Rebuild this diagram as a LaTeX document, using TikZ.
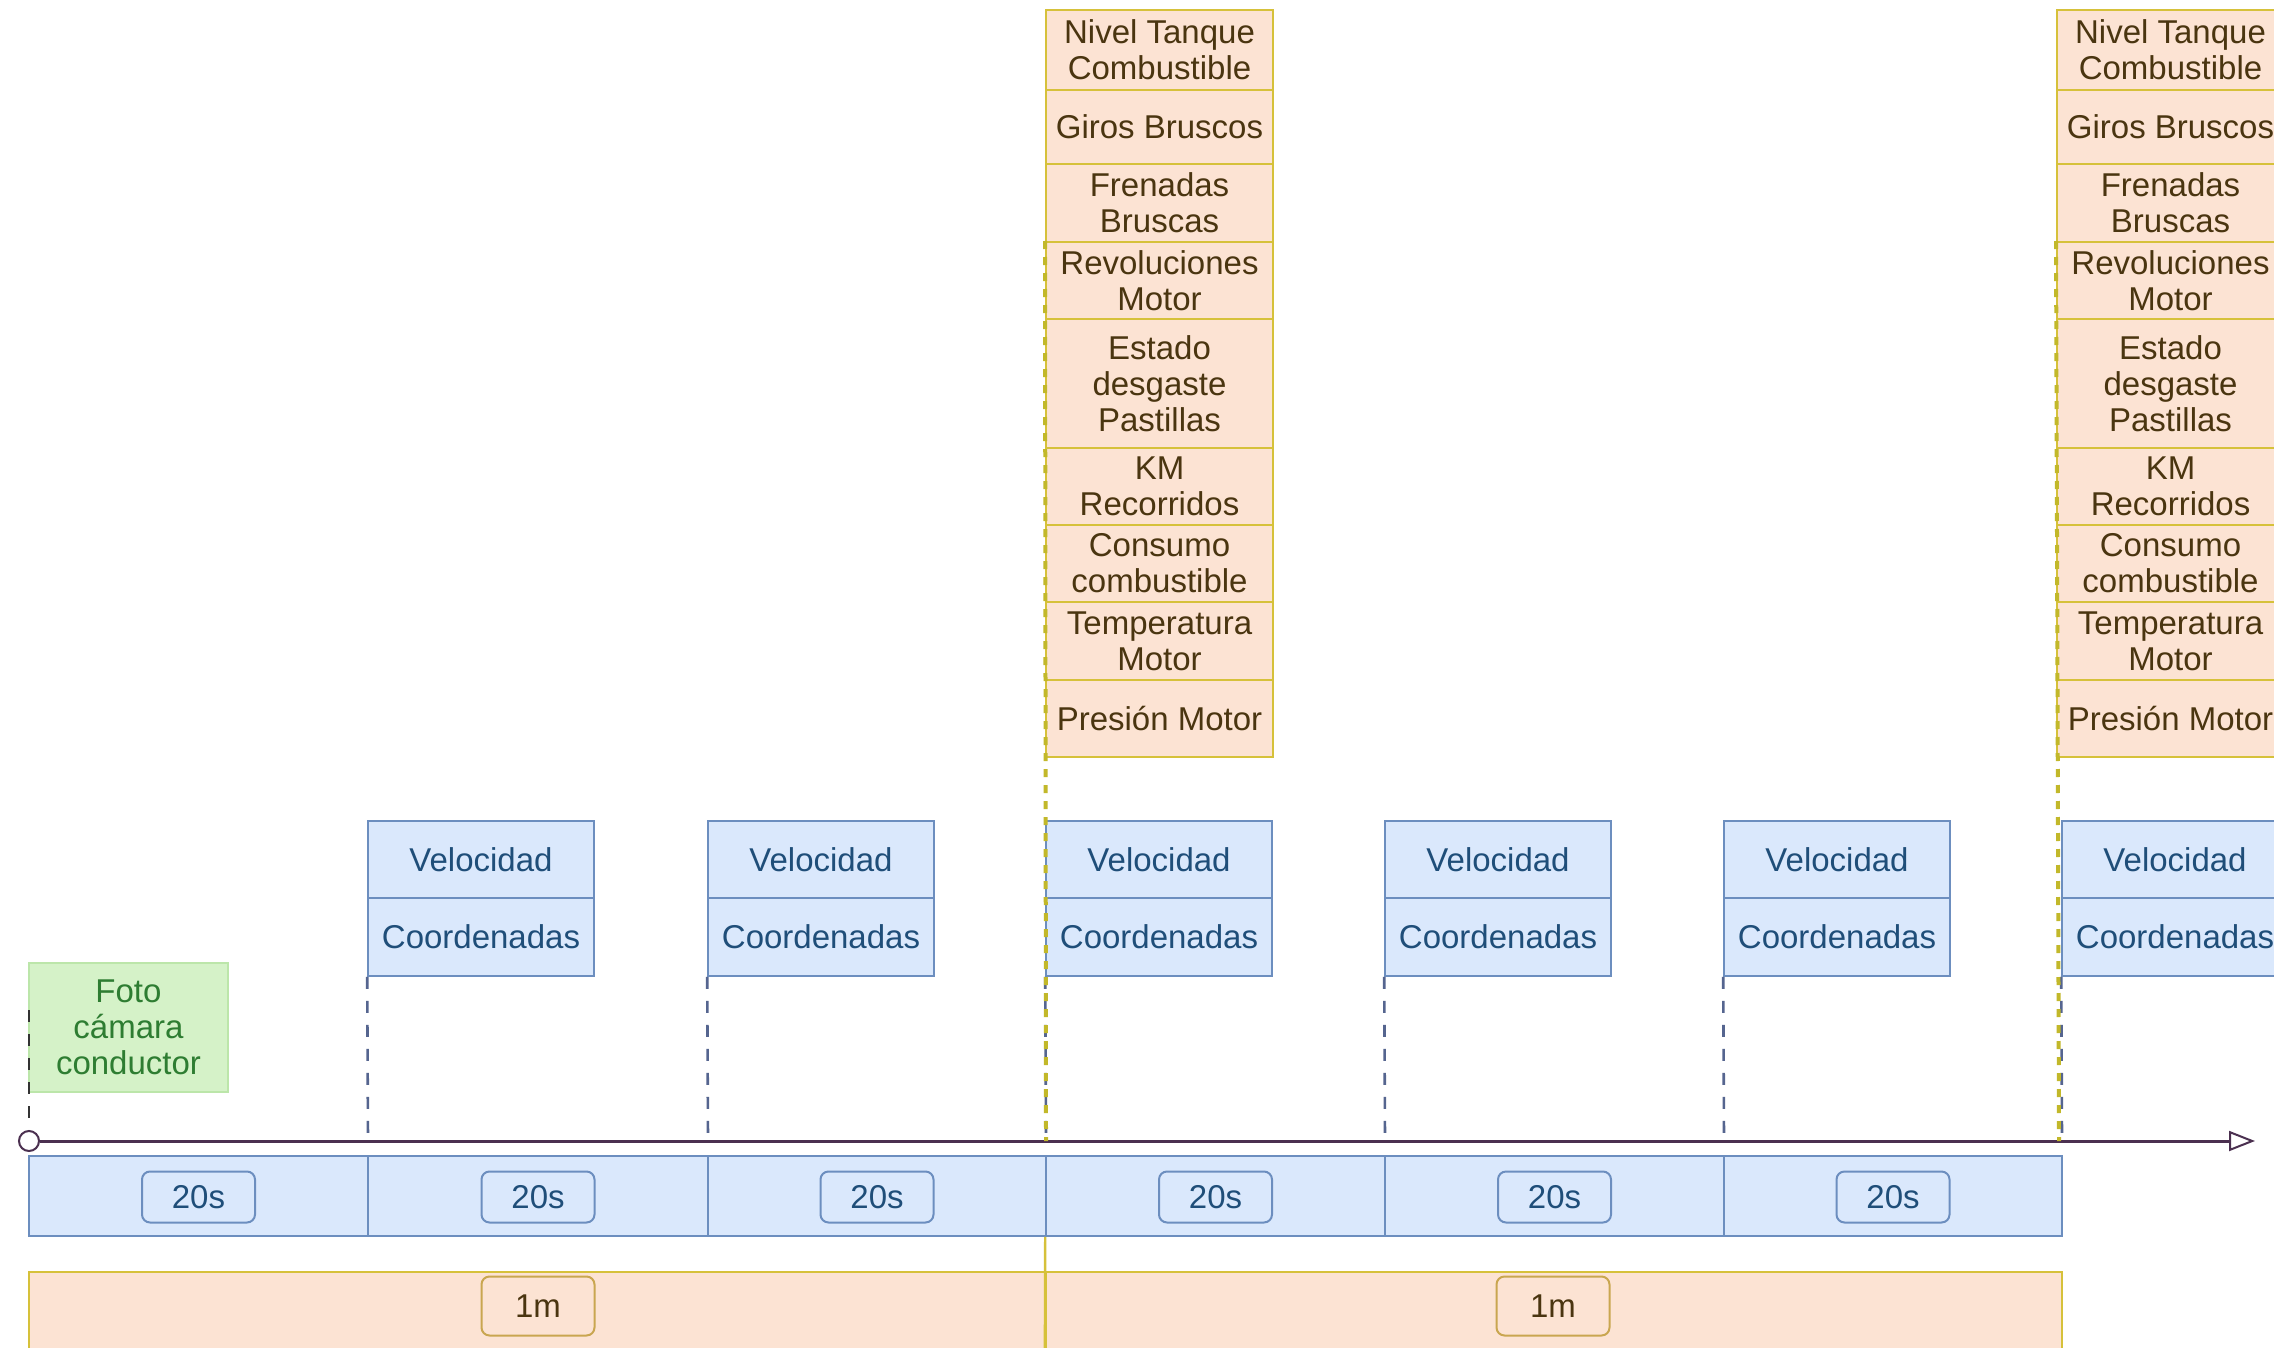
\documentclass[tikz,border=0pt]{standalone}
\usepackage{fontspec}
\setmainfont{Liberation Sans}
\usetikzlibrary{arrows.meta}

\definecolor{blueFill}{HTML}{DAE8FC}
\definecolor{blueLine}{HTML}{6C8EBF}
\definecolor{blueText}{HTML}{1F4E79}
\definecolor{peachFill}{HTML}{FCE3D3}
\definecolor{yellowLine}{HTML}{D6C13A}
\definecolor{oliveDot}{HTML}{C2B82A}
\definecolor{labelLine}{HTML}{C9A650}
\definecolor{brownText}{HTML}{4A3510}
\definecolor{greenFill}{HTML}{D5F2C8}
\definecolor{greenLine}{HTML}{BCE6AA}
\definecolor{greenText}{HTML}{2E7D32}
\definecolor{axisCol}{HTML}{4B3050}
\definecolor{tickCol}{HTML}{55658F}

\tikzset{
  lbl/.style={font=\fontsize{16.5}{18}\selectfont, align=center, inner sep=0pt},
  stackrow/.style={lbl, draw=yellowLine, fill=peachFill, text=brownText,
    line width=1pt, minimum width=113.5pt},
  sensor/.style={lbl, draw=blueLine, fill=blueFill, text=blueText,
    line width=0.8pt, minimum width=113pt},
  photo/.style={lbl, draw=greenLine, fill=greenFill, text=greenText,
    line width=0.6pt, minimum width=99.5pt, minimum height=64.5pt},
  slot/.style={draw=blueLine, fill=blueFill, line width=0.8pt,
    minimum height=40pt, inner sep=0pt},
  minuteband/.style={draw=yellowLine, fill=peachFill, line width=1.2pt,
    minimum height=48pt, inner sep=0pt},
  secs/.style={lbl, draw=blueLine, fill=blueFill, text=blueText, rounded corners=4pt,
    line width=1pt, minimum width=56.5pt, minimum height=25.5pt},
  mins/.style={lbl, draw=labelLine, fill=peachFill, text=brownText, rounded corners=4pt,
    line width=1pt, minimum width=56.5pt, minimum height=29.5pt},
  axis/.style={draw=axisCol, line width=1.5pt,
    -{Triangle[open, length=13pt, width=10pt, line width=1pt]}},
  tickdash/.style={draw=tickCol, line width=1.3pt, dash pattern=on 6pt off 6pt},
  startdash/.style={draw=black!80, line width=1.3pt, dash pattern=on 6pt off 6pt},
  olivedash/.style={draw=oliveDot, line width=2pt, dash pattern=on 4pt off 4pt},
}

\begin{document}
\begin{tikzpicture}[x=0.5pt, y=-0.5pt]
\clip (0,0) rectangle (2274,1348);
\fill[white] (0,0) rectangle (2274,1348);

% 20 s slots along the time axis
\foreach \cx/\w [count=\i] in {198.5/339, 538/340, 877/338, 1215.5/339, 1554.5/339, 1893/338} {
  \node[slot, minimum width={\w*0.5pt}] (b\i) at (\cx,1196) {};
  \node[secs] (s\i) at (\cx,1197) {20s};
}

% 1 min bands
\node[minuteband, minimum width=508.5pt] (o1) at (537.5,1320) {};
\node[minuteband, minimum width=508pt] (o2) at (1554,1320) {};
\node[mins] (m1) at (538,1306) {1m};
\node[mins] (m2) at (1553,1306) {1m};
\draw[yellowLine, line width=1.2pt] (b4.south west) -- (o2.south west);

% time axis
\coordinate (tEnd) at (2255,1141);
\foreach \x [count=\i] in {368,708,1046,1385,1724,2062} {
  \coordinate (k\i) at (\x,1141);
}
\coordinate (kA) at (1046,1141);
\coordinate (kB) at (2059,1141);
\node[circle, draw=axisCol, fill=white, minimum size=10pt, inner sep=0pt, line width=1pt] (t0) at (29,1141) {};
\draw[axis] (t0.east) -- (tEnd);

% driver photo at the start
\node[photo] (foto) at (128.5,1027.5) {Foto\\cámara\\conductor};
\coordinate (fotoTop) at (29,1010);
\draw[startdash] (fotoTop) -- (t0.north);

% speed / position every 20 s
\foreach \L [count=\i] in {368,708,1046,1385,1724,2062} {
  \node[sensor, minimum height=38.5pt] (v\i) at (\L+113,859.5) {Velocidad};
  \node[sensor, minimum height=39pt] (c\i) at (\L+113,937) {Coordenadas};
  \draw[tickdash] (c\i.south west) -- (k\i);
}

% vehicle data every minute
\foreach \cx/\nm in {1159.5/A, 2170.5/B} {
  \foreach \t/\b/\txt [count=\i] in {
      10/90/{Nivel Tanque\\Combustible},
      90/164/{Giros Bruscos},
      164/242/{Frenadas\\Bruscas},
      242/319/{Revoluciones\\Motor},
      319/448/{Estado\\desgaste\\Pastillas},
      448/525/{KM\\Recorridos},
      525/602/{Consumo\\combustible},
      602/680/{Temperatura\\Motor},
      680/757/{Presión Motor}} {
    \node[stackrow, minimum height={(\b-\t)*0.5pt}] (s\nm\i) at (\cx,{(\t+\b)/2}) {\txt};
  }
}
\draw[olivedash] (sA4.north west) -- (kA);
\draw[olivedash] (sB4.north west) -- (kB);
\end{tikzpicture}
\end{document}
